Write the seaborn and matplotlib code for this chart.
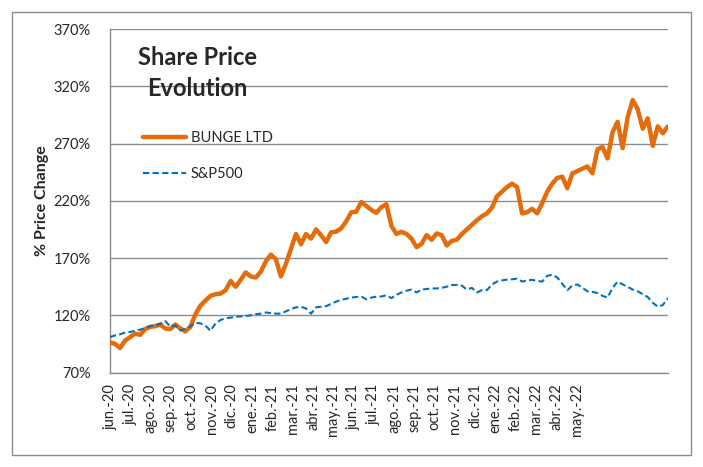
import seaborn as sns
import matplotlib.pyplot as plt
import matplotlib.patches as mpatches
import numpy as np
import pandas as pd

# 月度标签
month_labels = ["jun.-20", "jul.-20", "ago.-20", "sep.-20", "oct.-20", "nov.-20", "dic.-20",
                "ene.-21", "feb.-21", "mar.-21", "abr.-21", "may.-21", "jun.-21", "jul.-21",
                "ago.-21", "sep.-21", "oct.-21", "nov.-21", "dic.-21", "ene.-22", "feb.-22",
                "mar.-22", "abr.-22", "may.-22"]

# BUNGE LTD (% 价格变化)
bunge = [96.5, 95, 91.5, 98, 101, 104, 103, 108, 110, 110.5,
         112, 108.5, 108, 112, 108.5, 106, 110, 121, 128.5, 133,
         137, 138.5, 139, 142, 150, 145, 151, 157.5, 154, 153,
         158, 167, 173, 169, 154, 165, 178, 191, 182, 191,
         187, 195, 190, 184, 192.5, 193, 196, 202, 210, 210.5,
         219, 215.5, 212, 209.5, 214.5, 217, 198, 191, 193, 191,
         187, 179.5, 182.5, 190, 186, 191.5, 190, 181, 185, 186,
         191, 195, 199, 203, 206.5, 209, 214, 224, 228, 232,
         235, 232, 209, 210, 213, 209, 218, 228, 235, 240,
         241, 231, 244, 246, 248, 250, 244, 265, 267, 257,
         280, 289, 266, 293, 308, 300, 283, 292, 268, 285,
         279, 285]

# S&P500 (% 价格变化)
sp500 = [101, 102.5, 103.5, 105, 105.5, 106.5, 107.5, 109, 110.5, 111.5,
         112.5, 115, 110, 111.3, 107, 108, 110.5, 113.5, 113, 111,
         106.5, 113, 116, 117.5, 118, 119, 119, 119.5, 120, 121,
         121.5, 122.5, 122, 121.5, 121.5, 123.5, 125.5, 127, 127.5, 126,
         121.5, 127, 127.5, 128, 130, 132, 133.5, 134.5, 135.5, 136,
         136.5, 134, 135.5, 136.3, 136.5, 137.5, 135, 138, 140, 141.5,
         142.5, 140, 142.5, 143, 143.5, 143.5, 144, 145, 146.5, 146.5,
         146, 142.5, 144, 140, 142, 142, 147, 149.5, 150.5, 151.2,
         151.5, 152, 149.5, 150.5, 151, 150, 149.5, 154.5, 155.5, 153,
         147.5, 142, 146, 147, 144, 141, 140.5, 139.5, 137, 135.5,
         144, 149.5, 147, 145, 142.5, 141, 138.5, 136, 131, 127.5,
         129, 135]

y_ticks = [70, 120, 170, 220, 270, 320, 370]

df = pd.DataFrame({"t": np.arange(len(bunge)), "BUNGE LTD": bunge, "S&P500": sp500})

sns.set_style("white")
plt.rcParams["font.family"] = ["Lato", "DejaVu Sans"]

fig = plt.figure(figsize=(7.03, 4.67), dpi=100)
ax = fig.add_axes([0.1565, 0.2021, 0.7935, 0.7358])

sns.lineplot(x="t", y="BUNGE LTD", data=df, ax=ax, color="#E46C0A", linewidth=3.2,
             label="BUNGE LTD", zorder=3)
sns.lineplot(x="t", y="S&P500", data=df, ax=ax, color="#0070C0", linewidth=1.5,
             linestyle=(0, (3, 1.6)), label="S&P500", zorder=4)

ax.set_xlim(0, len(bunge) - 1)
ax.set_ylim(70, 370)
ax.set_yticks(y_ticks)
ax.set_yticklabels([f"{v}%" for v in y_ticks], fontsize=10.5)
ax.set_xticks(np.arange(len(month_labels)) * 4.04)
ax.set_xticklabels(month_labels, rotation=90, fontsize=10.5)
ax.tick_params(axis="both", length=0)
ax.tick_params(axis="y", pad=14)
ax.tick_params(axis="x", pad=8)

ax.grid(axis="y", color="#8c8c8c", linewidth=1.0)
ax.set_axisbelow(True)
for s in ["top", "right"]:
    ax.spines[s].set_visible(False)
for s in ["left", "bottom"]:
    ax.spines[s].set_color("#8c8c8c")
    ax.spines[s].set_linewidth(1.0)

ax.set_xlabel("")
ax.set_ylabel("% Price Change", fontsize=11.5, fontweight="bold", labelpad=3)

ax.text(0.157, 0.872, "Share Price\nEvolution", transform=ax.transAxes, ha="center", va="center",
        fontsize=17, fontweight="bold", linespacing=1.4)

leg = ax.legend(loc="upper left", bbox_to_anchor=(0.035, 0.74), frameon=False, fontsize=10.5,
                handlelength=3.0, handletextpad=0.3, labelspacing=1.45)

# 外边框
fig.patches.append(mpatches.Rectangle((12 / 703, 1 - 455 / 467), 679 / 703, 443 / 467,
                                      transform=fig.transFigure, fill=False,
                                      edgecolor="#8c8c8c", linewidth=1.0))

fig.savefig("out.png", dpi=100)
